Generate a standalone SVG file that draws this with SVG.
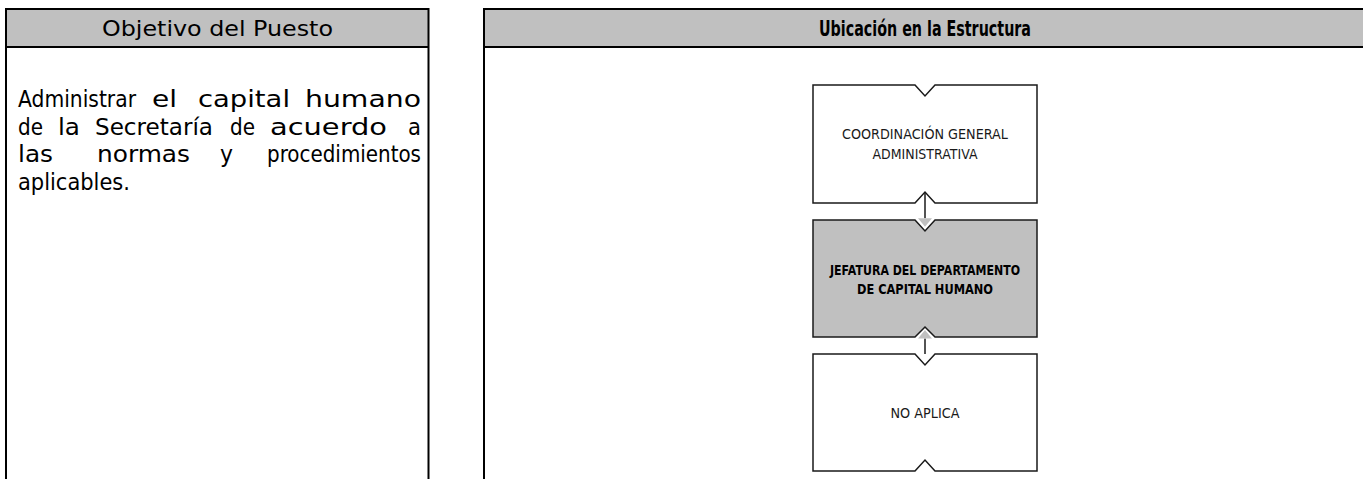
<svg xmlns="http://www.w3.org/2000/svg" width="1363" height="479" viewBox="0 0 1363 479">
<style>
.hdr{fill:#c0c0c0;stroke:none}
.frame{fill:none;stroke:#000;stroke-width:2}
.htxt{font-family:"DejaVu Sans","Liberation Sans",sans-serif;font-size:21px;fill:#000;text-anchor:middle}
.htxt.b{font-weight:bold;font-size:22px}
.body{font-family:"DejaVu Sans","Liberation Sans",sans-serif;font-size:23px;fill:#000}
.box{fill:#fff;stroke:#1a1a1a;stroke-width:1.5;stroke-linejoin:miter}
.box.sel{fill:#c0c0c0}
.ntxt{font-family:"DejaVu Sans","Liberation Sans",sans-serif;font-size:14px;fill:#1a1a1a;text-anchor:middle}
.ntxt.b{font-weight:bold;fill:#000}
.conn{fill:none;stroke:#1a1a1a;stroke-width:1.5}
</style>
<defs>
<marker id="arr" markerUnits="userSpaceOnUse" markerWidth="9" markerHeight="14" viewBox="0 0 9 14" refX="0" refY="7" orient="auto">
<path d="M0,0 L8.5,7 L0,14 Z" fill="#c0c0c0"/>
</marker>
</defs>
<g id="panel-objetivo">
<rect class="hdr" x="6" y="9" width="422.5" height="38"/>
<path class="frame" d="M6,479 V9 H428.5 V479 M6,47 H428.5"/>
<text class="htxt" x="217.5" y="36" textLength="231" lengthAdjust="spacingAndGlyphs">Objetivo del Puesto</text>
<g class="body">
<text x="18" y="107" textLength="118" lengthAdjust="spacingAndGlyphs">Administrar</text>
<text x="152" y="107" textLength="25" lengthAdjust="spacingAndGlyphs">el</text>
<text x="198" y="107" textLength="92" lengthAdjust="spacingAndGlyphs">capital</text>
<text x="305" y="107" textLength="116" lengthAdjust="spacingAndGlyphs">humano</text>
<text x="18" y="135" textLength="25" lengthAdjust="spacingAndGlyphs">de</text>
<text x="58" y="135" textLength="22" lengthAdjust="spacingAndGlyphs">la</text>
<text x="95" y="135" textLength="118" lengthAdjust="spacingAndGlyphs">Secretaría</text>
<text x="230" y="135" textLength="25" lengthAdjust="spacingAndGlyphs">de</text>
<text x="270" y="135" textLength="117" lengthAdjust="spacingAndGlyphs">acuerdo</text>
<text x="408" y="135" textLength="13" lengthAdjust="spacingAndGlyphs">a</text>
<text x="18" y="162" textLength="35" lengthAdjust="spacingAndGlyphs">las</text>
<text x="97" y="162" textLength="93" lengthAdjust="spacingAndGlyphs">normas</text>
<text x="220" y="162" textLength="13" lengthAdjust="spacingAndGlyphs">y</text>
<text x="267" y="162" textLength="154" lengthAdjust="spacingAndGlyphs">procedimientos</text>
<text x="18" y="189.5" textLength="112" lengthAdjust="spacingAndGlyphs">aplicables.</text>
</g>
</g>
<g id="panel-ubicacion">
<rect class="hdr" x="484" y="9" width="890" height="38"/>
<path class="frame" d="M484,479 V9 H1374 M484,47 H1374"/>
<text class="htxt b" x="925" y="36" textLength="212" lengthAdjust="spacingAndGlyphs">Ubicación en la Estructura</text>
</g>
<g id="connectors">
<path class="conn" d="M925,192 V218.3" marker-end="url(#arr)"/>
<path class="conn" d="M925,354 V338.5" marker-end="url(#arr)"/>
</g>
<g id="node-coordinacion">
<path class="box" d="M813,85 H915 L925,96 L935,85 H1037 V203 H935 L925,192 L915,203 H813 Z"/>
<text class="ntxt" x="925" y="139" textLength="166" lengthAdjust="spacingAndGlyphs">COORDINACIÓN GENERAL</text>
<text class="ntxt" x="925" y="159" textLength="105" lengthAdjust="spacingAndGlyphs">ADMINISTRATIVA</text>
</g>
<g id="node-jefatura">
<path class="box sel" d="M813,220 H915 L925,231 L935,220 H1037 V337 H935 L925,327 L915,337 H813 Z"/>
<text class="ntxt b" x="925" y="275" textLength="190" lengthAdjust="spacingAndGlyphs">JEFATURA DEL DEPARTAMENTO</text>
<text class="ntxt b" x="925" y="294" textLength="136" lengthAdjust="spacingAndGlyphs">DE CAPITAL HUMANO</text>
</g>
<g id="node-noaplica">
<path class="box" d="M813,354 H915 L925,365 L935,354 H1037 V471 H935 L925,460 L915,471 H813 Z"/>
<text class="ntxt" x="925" y="418" textLength="69" lengthAdjust="spacingAndGlyphs">NO APLICA</text>
</g>
</svg>
